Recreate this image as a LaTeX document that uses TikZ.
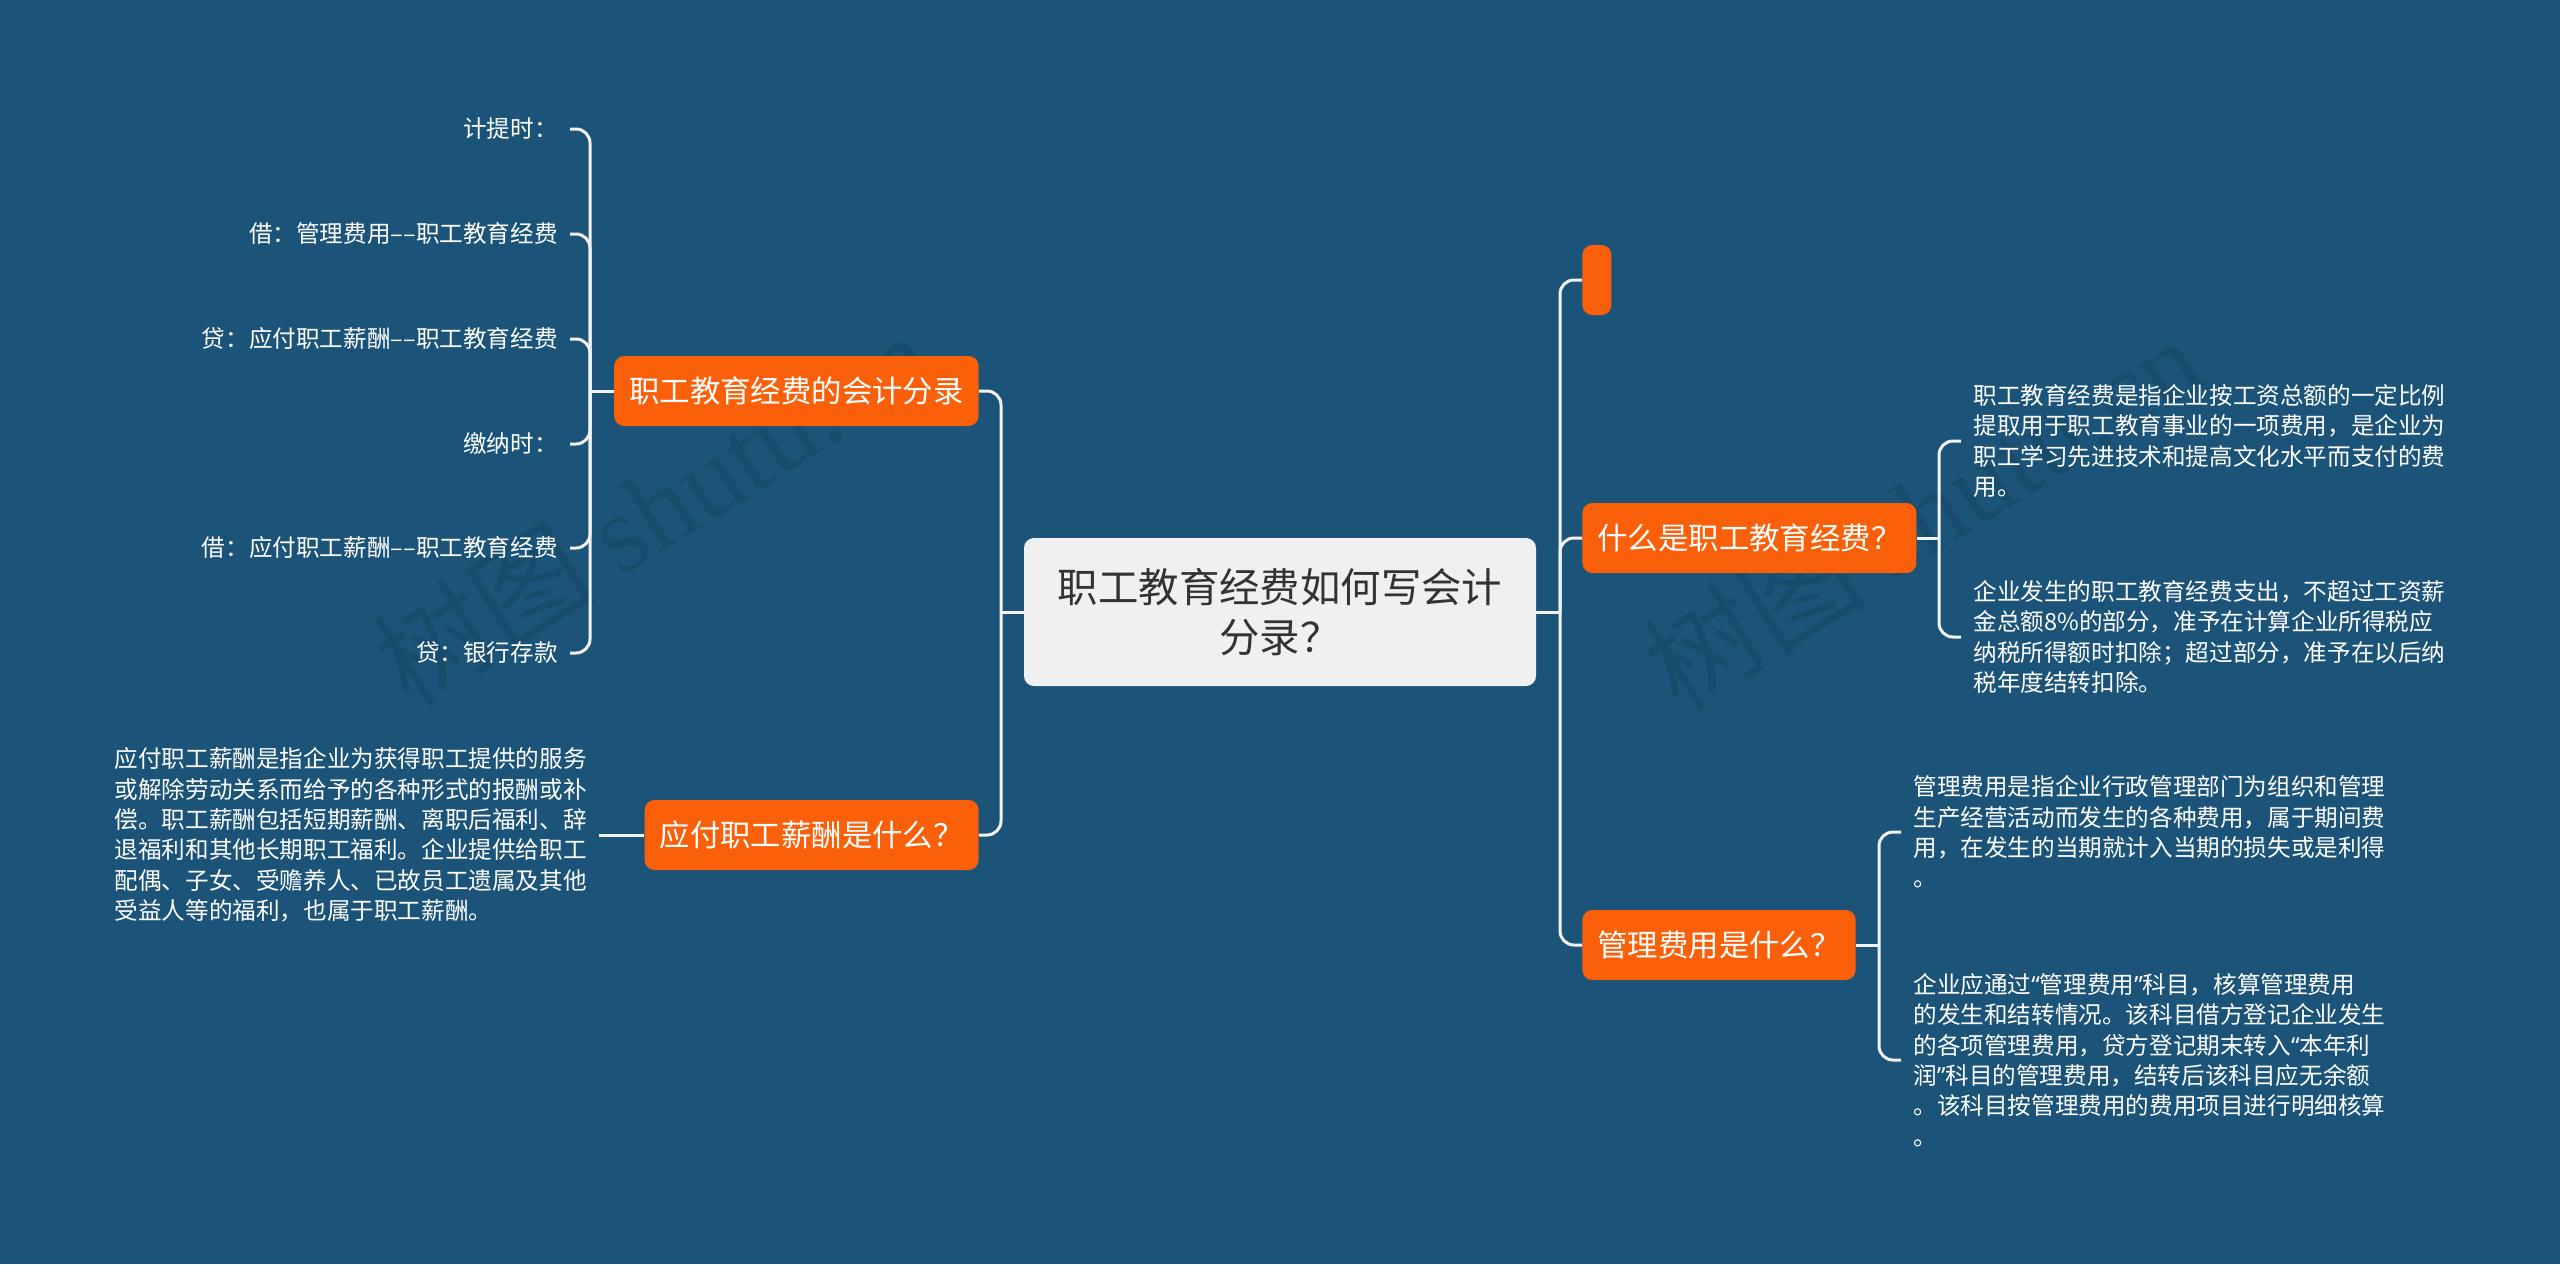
\documentclass[tikz,border=0pt]{standalone}
\usepackage{fontspec}
\setmainfont{Noto Sans CJK SC}
\newfontfamily\markfont{Liberation Serif}
\newfontfamily\quotefont{Noto Sans}
\usepackage{tikz}
\usetikzlibrary{positioning}

\definecolor{bgblue}{RGB}{27,84,120}
\definecolor{branchorange}{RGB}{250,96,10}
\definecolor{rootgray}{RGB}{240,240,240}
\definecolor{rootink}{RGB}{51,51,51}
\definecolor{linkwhite}{RGB}{242,242,242}
\newcommand{\openq}{{\quotefont “}}
\newcommand{\closeq}{{\quotefont ”}}

\begin{document}
\begin{tikzpicture}[x=0.5pt,y=-0.5pt,
    rootbox/.style={fill=rootgray, text=rootink, rounded corners=5pt,
      minimum width=256pt, minimum height=74pt, align=center,
      font=\fontsize{20.2}{25}\selectfont},
    branch/.style={fill=branchorange, text=white, rounded corners=5pt,
      minimum height=35pt, inner xsep=7.5pt, font=\fontsize{15.2}{18}\selectfont},
    leaf/.style={text=white, inner sep=6pt, align=left,
      font=\fontsize{11.8}{15.2}\selectfont},
    link/.style={draw=linkwhite, line width=1.5pt, rounded corners=7pt},
    watermark/.style={rotate=32, text=black, opacity=0.09,
      font=\fontsize{56}{60}\selectfont}]
  \fill[bgblue] (0,0) rectangle (2560,1264);
  \useasboundingbox (0,0) rectangle (2560,1264);

  \node[watermark] (markL) at (652,508) {树图 {\markfont shutu.cn}};
  \node[watermark] (markR) at (1922,512) {树图 {\markfont shutu.cn}};

  \node[rootbox] (root) at (1280,612) {职工教育经费如何写会计\\分录？};

  \node[branch, anchor=east] (acct) at (979,391) {职工教育经费的会计分录};
  \node[branch, anchor=east] (pay)  at (979,835) {应付职工薪酬是什么？};
  \node[branch, anchor=west, minimum width=14.5pt, minimum height=35pt, inner sep=0pt] (blank) at (1582,280) {};
  \node[branch, anchor=west] (what) at (1582,538) {什么是职工教育经费？};
  \node[branch, anchor=west] (mgmt) at (1582,945) {管理费用是什么？};

  \node[leaf, anchor=east] (accr)   at (570,129) {计提时：};
  \node[leaf, anchor=east] (accrdr) at (570,234) {借：管理费用––职工教育经费};
  \node[leaf, anchor=east] (accrcr) at (570,339) {贷：应付职工薪酬––职工教育经费};
  \node[leaf, anchor=east] (paid)   at (570,444) {缴纳时：};
  \node[leaf, anchor=east] (paiddr) at (570,548) {借：应付职工薪酬––职工教育经费};
  \node[leaf, anchor=east] (paidcr) at (570,653) {贷：银行存款};

  \node[leaf, anchor=east] (payinfo) at (599,835) {应付职工薪酬是指企业为获得职工提供的服务\\或解除劳动关系而给予的各种形式的报酬或补\\偿。职工薪酬包括短期薪酬、离职后福利、辞\\退福利和其他长期职工福利。企业提供给职工\\配偶、子女、受赡养人、已故员工遗属及其他\\受益人等的福利，也属于职工薪酬。};

  \node[leaf, anchor=west] (whatdef) at (1961,441) {职工教育经费是指企业按工资总额的一定比例\\提取用于职工教育事业的一项费用，是企业为\\职工学习先进技术和提高文化水平而支付的费\\用。};
  \node[leaf, anchor=west] (whattax) at (1961,637) {企业发生的职工教育经费支出，不超过工资薪\\金总额8\%的部分，准予在计算企业所得税应\\纳税所得额时扣除；超过部分，准予在以后纳\\税年度结转扣除。};

  \node[leaf, anchor=west] (mgmtdef) at (1901,832) {管理费用是指企业行政管理部门为组织和管理\\生产经营活动而发生的各种费用，属于期间费\\用，在发生的当期就计入当期的损失或是利得\\。};
  \node[leaf, anchor=west] (mgmtacc) at (1901,1060) {企业应通过\openq 管理费用\closeq 科目，核算管理费用\\的发生和结转情况。该科目借方登记企业发生\\的各项管理费用，贷方登记期末转入\openq 本年利\\润\closeq 科目的管理费用，结转后该科目应无余额\\。该科目按管理费用的费用项目进行明细核算\\。};

  \coordinate (rootL) at (1001,612);
  \coordinate (rootR) at (1560,612);
  \coordinate (acctR) at (590,391);
  \coordinate (whatR) at (1939,538);
  \coordinate (mgmtR) at (1879,945);

  \draw[link] (root.west) -- (rootL);
  \draw[link] (rootL) |- (acct.east);
  \draw[link] (rootL) |- (pay.east);
  \draw[link] (root.east) -- (rootR);
  \draw[link] (rootR) |- (blank.west);
  \draw[link] (rootR) |- (what.west);
  \draw[link] (rootR) |- (mgmt.west);

  \draw[link] (acct.west) -- (acctR);
  \draw[link] (acctR) |- (accr.east);
  \draw[link] (acctR) |- (accrdr.east);
  \draw[link] (acctR) |- (accrcr.east);
  \draw[link] (acctR) |- (paid.east);
  \draw[link] (acctR) |- (paiddr.east);
  \draw[link] (acctR) |- (paidcr.east);

  \draw[link] (pay.west) -- (payinfo.east);

  \draw[link] (what.east) -- (whatR);
  \draw[link] (whatR) |- (whatdef.west);
  \draw[link] (whatR) |- (whattax.west);

  \draw[link] (mgmt.east) -- (mgmtR);
  \draw[link] (mgmtR) |- (mgmtdef.west);
  \draw[link] (mgmtR) |- (mgmtacc.west);
\end{tikzpicture}
\end{document}
